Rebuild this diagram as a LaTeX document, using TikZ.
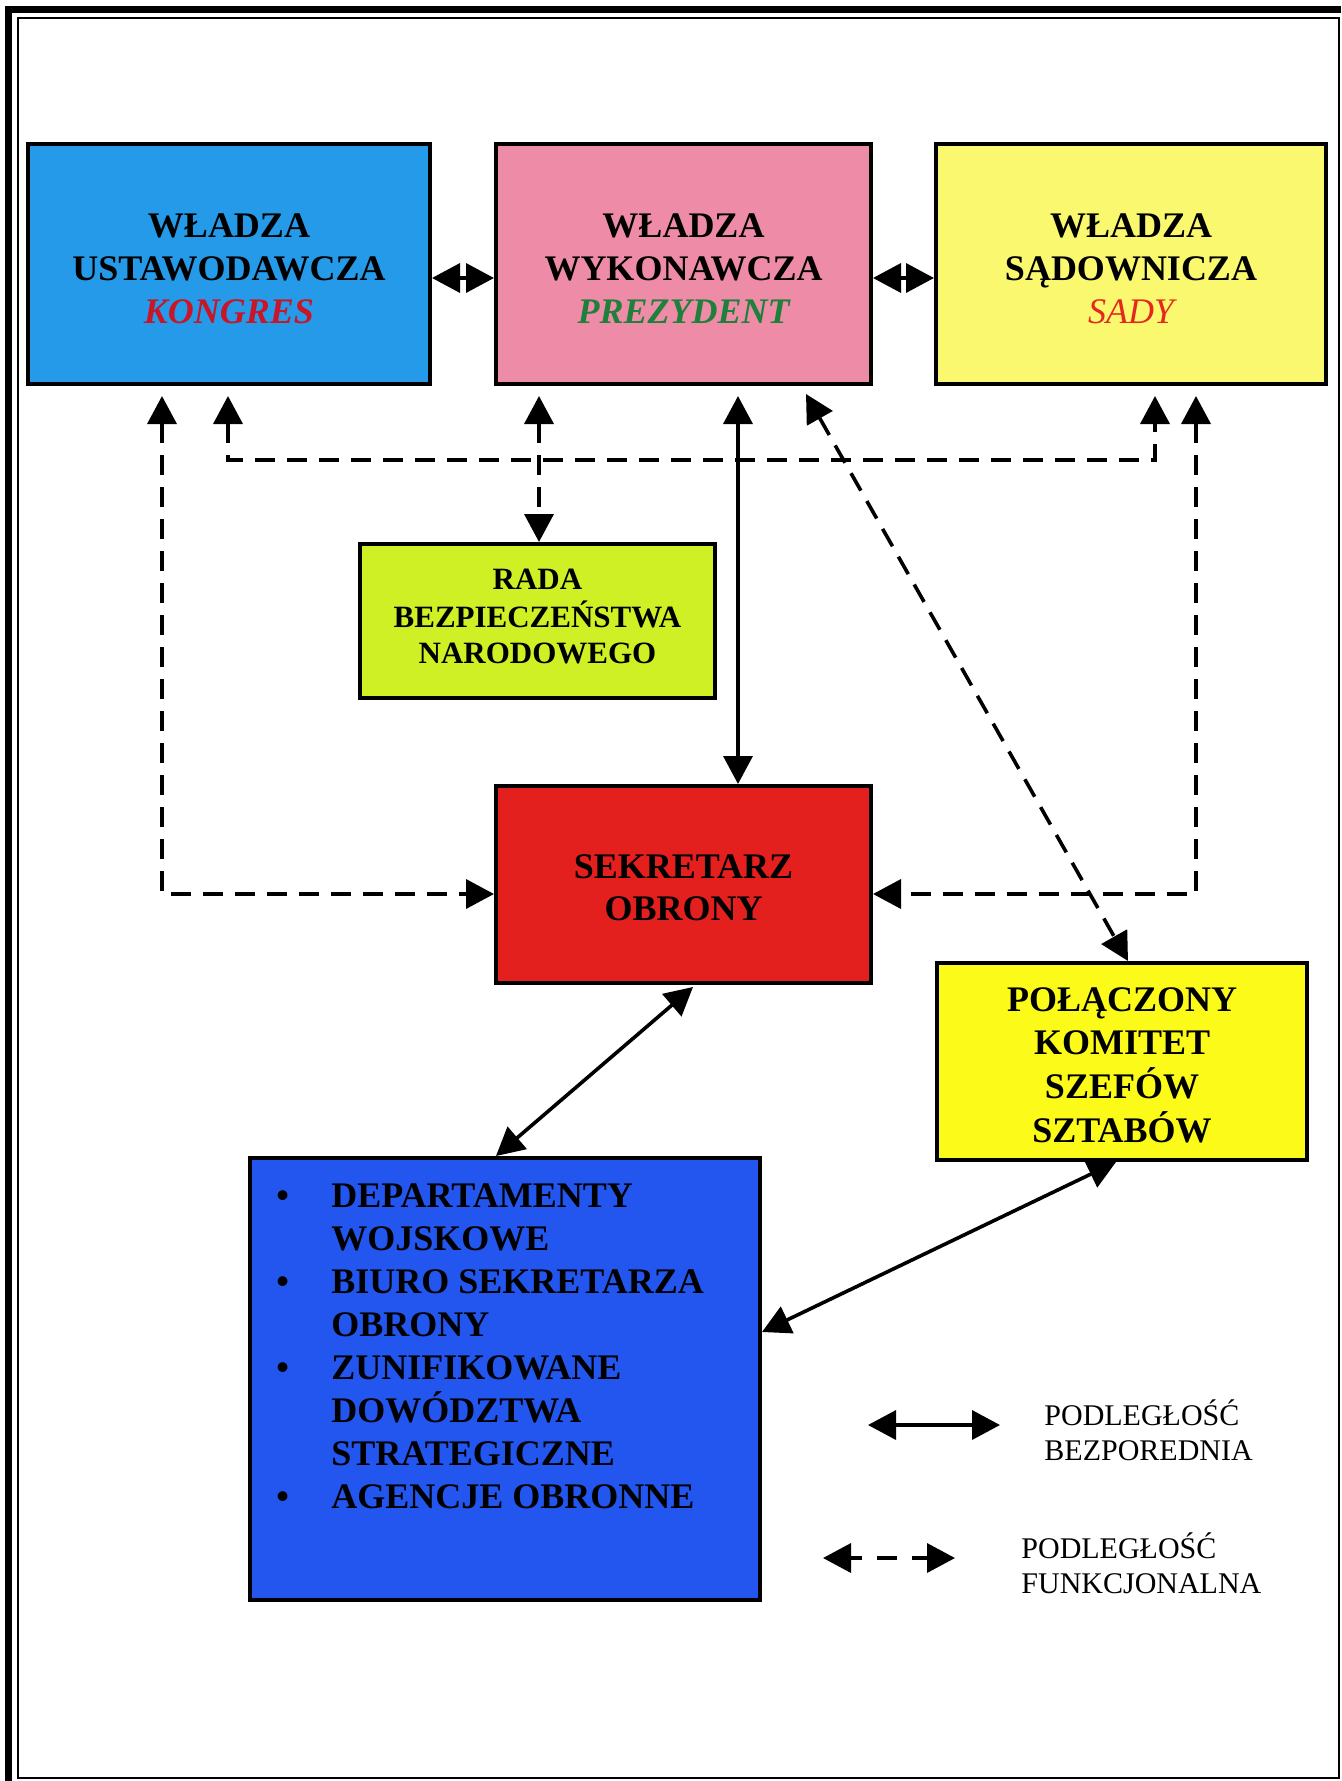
\documentclass[tikz,border=0pt]{standalone}
\usepackage{fontspec}
\setmainfont{Liberation Serif}
\usetikzlibrary{arrows.meta}

\definecolor{legblue}{RGB}{36,154,232}
\definecolor{exepink}{RGB}{238,140,168}
\definecolor{judyellow}{RGB}{250,248,110}
\definecolor{radalime}{RGB}{206,240,36}
\definecolor{sekred}{RGB}{228,32,30}
\definecolor{jcsyellow}{RGB}{252,250,24}
\definecolor{dodblue}{RGB}{34,86,238}
\definecolor{kongres}{RGB}{200,22,40}
\definecolor{prezydent}{RGB}{30,128,58}
\definecolor{sady}{RGB}{228,40,30}

% centred lines of a box label, moved vertically without changing the box
\newcommand\boxlines[2]{\raisebox{#1}[\height][\depth]{\begin{tabular}{@{}c@{}}#2\end{tabular}}}

\begin{document}
\begin{tikzpicture}[x=0.5pt,y=-0.5pt,
  box/.style={draw=black, line width=2pt, inner sep=0pt, align=center},
  bigtxt/.style={font=\bfseries\fontsize{18}{21.5}\selectfont},
  midtxt/.style={font=\bfseries\fontsize{15.5}{18.25}\selectfont},
  legtxt/.style={font=\fontsize{15}{17.5}\selectfont, align=left, inner sep=0pt},
  link/.style={line width=1.8pt, <->, >={Triangle[length=14pt,width=14.5pt]}},
  funclink/.style={link, dash pattern=on 10pt off 6pt},
]
% page and frame
\fill[white] (0,0) rectangle (1341,1781);
\useasboundingbox (0,0) rectangle (1341,1781);
\draw[line width=3.75pt, line join=miter] (8.5,1781) -- (8.5,9.5) -- (1341,9.5);
\draw[line width=1pt] (17.5,18) rectangle (1339,1778);

% three branches of power
\node[box, fill=legblue, minimum width=201pt, minimum height=120pt, bigtxt] (leg) at (229,264)
  {\boxlines{-4.2pt}{WŁADZA\\USTAWODAWCZA\\\textcolor{kongres}{\itshape KONGRES}}};
\node[box, fill=exepink, minimum width=187.5pt, minimum height=120pt, bigtxt] (exe) at (683.5,264)
  {\boxlines{-4.2pt}{WŁADZA\\WYKONAWCZA\\\textcolor{prezydent}{\itshape PREZYDENT}}};
\node[box, fill=judyellow, minimum width=195pt, minimum height=120pt, bigtxt] (jud) at (1131,264)
  {\boxlines{-4.2pt}{WŁADZA\\SĄDOWNICZA\\\textcolor{sady}{\mdseries\itshape SADY}}};

% councils and offices
\node[box, fill=radalime, minimum width=177.5pt, minimum height=77pt, midtxt] (rada) at (537.5,621)
  {\boxlines{0.8pt}{RADA\\BEZPIECZEŃSTWA\\NARODOWEGO}};
\node[box, fill=sekred, minimum width=187.5pt, minimum height=98.5pt, font=\bfseries\fontsize{18}{21}\selectfont] (sek) at (683.5,884.5)
  {\boxlines{-3.4pt}{SEKRETARZ\\OBRONY}};
\node[box, fill=jcsyellow, minimum width=185pt, minimum height=98.5pt, bigtxt] (jcs) at (1122,1061.5)
  {\boxlines{-3.4pt}{POŁĄCZONY\\KOMITET\\SZEFÓW\\SZTABÓW}};
\node[box, fill=dodblue, minimum width=255pt, minimum height=221pt] (dod) at (505,1379) {};
\node[anchor=north west, bigtxt, align=left, inner sep=0pt] (dodlist) at (276,1183)
  {\makebox[27.5pt][l]{•}DEPARTAMENTY\\
   \hspace*{27.5pt}WOJSKOWE\\
   \makebox[27.5pt][l]{•}BIURO SEKRETARZA\\
   \hspace*{27.5pt}OBRONY\\
   \makebox[27.5pt][l]{•}ZUNIFIKOWANE\\
   \hspace*{27.5pt}DOWÓDZTWA\\
   \hspace*{27.5pt}STRATEGICZNE\\
   \makebox[27.5pt][l]{•}AGENCJE OBRONNE};

% direct subordination
\draw[link] ([yshift=-7pt]leg.east) -- ([yshift=-7pt]exe.west);
\draw[link] ([yshift=-7pt]exe.east) -- ([yshift=-7pt]jud.west);
\draw[link] ([xshift=27.25pt,yshift=-5pt]exe.south) -- ([xshift=27.25pt]sek.north);
\draw[link] ([xshift=4.75pt,yshift=-1pt]sek.south) -- ([xshift=-4.5pt]dod.north);
\draw[link] ([xshift=-3pt]jcs.south) -- ([yshift=23.5pt]dod.east);

% functional subordination
\draw[funclink] ([xshift=-72.25pt,yshift=-5pt]exe.south) -- ([xshift=0.75pt]rada.north);
\draw[funclink] ([xshift=-0.5pt,yshift=-5pt]leg.south) -- ++(0pt,-32pt) -| ([xshift=12pt,yshift=-5pt]jud.south);
\draw[funclink] ([xshift=-33.5pt,yshift=-5pt]leg.south) |- ([yshift=-4.75pt]sek.west);
\draw[funclink] ([xshift=32.5pt,yshift=-5pt]jud.south) |- ([yshift=-4.75pt]sek.east);
\draw[funclink] ([xshift=61.25pt,yshift=-4pt]exe.south) -- ([xshift=3pt]jcs.north);

% legend
\coordinate (ls1) at (868,1425);
\coordinate (ls2) at (1000,1425);
\draw[link] (ls1) -- (ls2);
\node[legtxt, anchor=west] (lstext) at (1044,1430.5) {PODLEGŁOŚĆ\\BEZPOREDNIA};
\coordinate (lf1) at (823,1558);
\coordinate (lf2) at (955,1558);
\draw[link, dash pattern=on 6pt off 7.5pt on 10pt off 7.5pt on 12pt off 0pt] (lf1) -- (lf2);
\node[legtxt, anchor=west] (lftext) at (1021,1563.5) {PODLEGŁOŚĆ\\FUNKCJONALNA};
\end{tikzpicture}
\end{document}
